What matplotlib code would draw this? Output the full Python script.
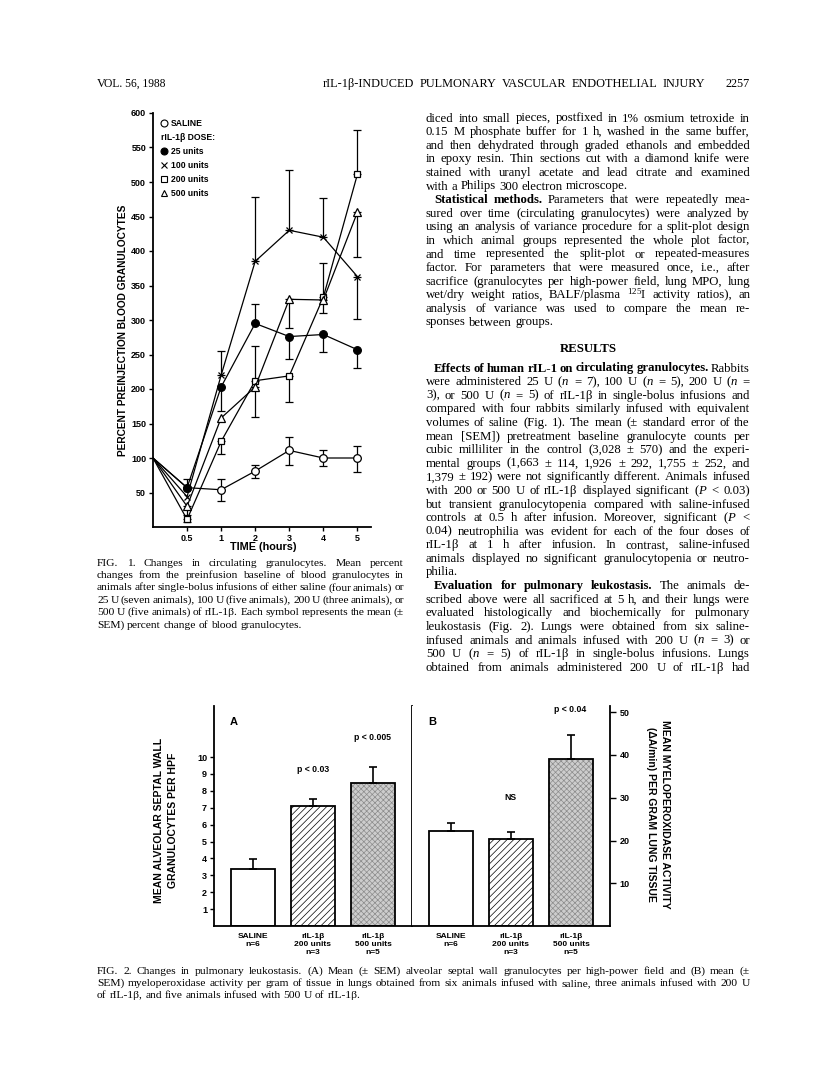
import matplotlib
matplotlib.use('Agg')
import matplotlib.pyplot as plt
import numpy as np

plt.rcParams['mathtext.fontset'] = 'custom'
plt.rcParams['mathtext.rm'] = 'Liberation Serif'
plt.rcParams['mathtext.it'] = 'Liberation Serif:italic'
plt.rcParams['mathtext.bf'] = 'Liberation Serif:bold'
plt.rcParams['hatch.linewidth'] = 0.5

SANS = 'Liberation Sans'
SERIF = 'Liberation Serif'

# ---------------- data: Fig. 1 ----------------
time_labels = ['0.5', '1', '2', '3', '4', '5']   # baseline (time 0) precedes these
saline = [100, 57, 54, 81, 111, 100, 100]
saline_up = [0, 0, 15, 9, 19, 11, 18]
saline_dn = [0, 0, 16, 10, 21, 12, 20]
u25 = [100, 57, 203, 295, 276, 279, 257]
u25_up = [0, 13, 0, 28, 0, 0, 0]
u25_dn = [0, 0, 35, 0, 33, 26, 27]
u100 = [100, 44, 220, 385, 430, 420, 363]
u100_up = [0, 0, 35, 93, 87, 57, 0]
u100_dn = [0, 0, 0, 0, 0, 0, 61]
u200 = [100, 11, 124, 212, 219, 333, 511]
u200_up = [0, 0, 0, 50, 0, 50, 64]
u200_dn = [0, 4, 18, 0, 38, 0, 0]
u500 = [100, 30, 158, 203, 330, 329, 456]
u500_up = [0, 0, 0, 0, 0, 0, 0]
u500_dn = [0, 12, 0, 44, 42, 19, 64]
legend_labels = ['SALINE', 'rIL-1\u03b2 DOSE:', '25 units', '100 units', '200 units', '500 units']

# ---------------- data: Fig. 2 ----------------
groups = ['SALINE\nn=6', 'rIL-1\u03b2\n200 units\nn=3', 'rIL-1\u03b2\n500 units\nn=5']
septal = [3.4, 7.1, 8.45]
septal_err = [0.57, 0.44, 0.98]
mpo = [22.3, 20.4, 39.1]
mpo_err = [1.9, 1.7, 5.6]
pvals_A = ['p < 0.03', 'p < 0.005']
pvals_B = ['NS', 'p < 0.04']

W, H, DPI = 816, 1077, 100
fig = plt.figure(figsize=(W / DPI, H / DPI), dpi=DPI)
fig.patch.set_facecolor('white')
renderer = fig.canvas.get_renderer()


def fx(x):
    return x / W


def fy(y):
    return 1 - y / H


def axrect(l, t, r, b):
    return [fx(l), fy(b), (r - l) / W, (b - t) / H]


# ================= Fig. 1 =================
ax1 = fig.add_axes(axrect(153, 113, 371, 527))
x = np.arange(len(time_labels) + 1)
series = [
    (saline, saline_up, saline_dn, dict(marker='o', mfc='white', ms=5.5)),
    (u25, u25_up, u25_dn, dict(marker='o', mfc='black', ms=5.5)),
    (u100, u100_up, u100_dn, dict(marker='x', ms=4.5)),
    (u200, u200_up, u200_dn, dict(marker='s', mfc='white', ms=5)),
    (u500, u500_up, u500_dn, dict(marker='^', mfc='white', ms=5.5)),
]
for vals, up, dn, st in series:
    v = np.array(vals, float)
    up = np.array(up, float)
    dn = np.array(dn, float)
    ax1.plot(x, v, color='black', lw=0.9, mec='black', mew=0.9,
             markevery=list(range(1, len(x))), zorder=3, **st)
    m = up > 0
    if m.any():
        ax1.errorbar(x[m], v[m], yerr=[np.zeros(m.sum()), up[m]], fmt='none',
                     ecolor='black', elinewidth=0.9, capsize=3, capthick=0.9, zorder=2)
    m = dn > 0
    if m.any():
        ax1.errorbar(x[m], v[m], yerr=[dn[m], np.zeros(m.sum())], fmt='none',
                     ecolor='black', elinewidth=0.9, capsize=3, capthick=0.9, zorder=2)

ax1.set_xlim(0, 6.4)
ax1.set_ylim(0, 600)
for s in ['top', 'right']:
    ax1.spines[s].set_visible(False)
for s in ['left', 'bottom']:
    ax1.spines[s].set_linewidth(1.3)
ax1.set_xticks(x[1:])
ax1.set_xticklabels(time_labels)
ax1.set_yticks(np.arange(50, 601, 50))
ax1.tick_params(length=3, width=1, direction='out', pad=2)
for lab in ax1.get_xticklabels() + ax1.get_yticklabels():
    lab.set_fontfamily(SANS)
    lab.set_fontweight('bold')
    lab.set_fontsize(6.5)
fig.text(fx(123), fy(330), 'PERCENT PREINJECTION BLOOD GRANULOCYTES', rotation=90,
         ha='center', va='center', family=SANS, weight='bold', size=7.3)
fig.text(fx(263), fy(547), 'TIME (hours)', ha='center', va='center',
         family=SANS, weight='bold', size=7.8)

leg_styles = [dict(marker='o', mfc='white', ms=5), None, dict(marker='o', mfc='black', ms=5),
              dict(marker='x', ms=4), dict(marker='s', mfc='white', ms=4.5),
              dict(marker='^', mfc='white', ms=5)]
leg_y = [123, 137, 151, 165, 179, 193]
for lab, st, yy in zip(legend_labels, leg_styles, leg_y):
    if st is None:
        fig.text(fx(161), fy(yy), lab, ha='left', va='center', family=SANS, weight='bold', size=6.2)
    else:
        ax1.plot([fx(164)], [fy(yy)], transform=fig.transFigure, clip_on=False,
                 color='black', mec='black', mew=0.8, ls='none', **st)
        fig.text(fx(171), fy(yy), lab, ha='left', va='center', family=SANS, weight='bold', size=6.2)

# ================= Fig. 2 =================
TOP2, BOT2 = 706, 926
axA = fig.add_axes(axrect(214, TOP2, 412, BOT2))
axB = fig.add_axes(axrect(412, TOP2, 610, BOT2))
xb = np.arange(len(groups))
fills = ['white', 'white', '#cdcdcd']
hatches = [None, '/////', 'xxxxxx']
hcols = ['black', 'black', '#8c8c8c']


def bars(ax, vals, errs):
    for i in range(len(vals)):
        ax.bar(xb[i], vals[i], width=0.72, color=fills[i], edgecolor=hcols[i],
               hatch=hatches[i], lw=0, zorder=1)
    ax.bar(xb, vals, width=0.72, fill=False, edgecolor='black', lw=1.3, zorder=2)
    ax.errorbar(xb, vals, yerr=[np.zeros(len(vals)), errs], fmt='none', ecolor='black',
                elinewidth=1.2, capsize=3, capthick=1.2, zorder=3)
    ax.set_xlim(-0.65, 2.65)
    ax.set_xticks(xb)
    ax.set_xticklabels(groups, family=SANS, weight='bold', size=6, linespacing=1.2)
    ax.tick_params(axis='x', length=0, pad=5)


bars(axA, septal, septal_err)
bars(axB, mpo, mpo_err)

axA.set_ylim(0, (BOT2 - TOP2) / 16.89)
axA.set_yticks(np.arange(1, 11))
axA.spines['top'].set_visible(False)
for s in ['left', 'bottom', 'right']:
    axA.spines[s].set_linewidth(1.3)
axA.tick_params(axis='y', length=3, width=1, direction='out', pad=2, labelsize=6.5)
for lab in axA.get_yticklabels():
    lab.set_fontfamily(SANS)
    lab.set_fontweight('bold')

axB.set_ylim(0, (BOT2 - TOP2) / 4.275)
axB.set_yticks(np.arange(10, 51, 10))
axB.yaxis.tick_right()
for s in ['top', 'left']:
    axB.spines[s].set_visible(False)
for s in ['right', 'bottom']:
    axB.spines[s].set_linewidth(1.3)
axB.tick_params(axis='y', length=4, width=1, direction='out', pad=3, labelsize=6.5)
for lab in axB.get_yticklabels():
    lab.set_fontfamily(SANS)
    lab.set_fontweight('bold')

fig.text(fx(234), fy(722), 'A', ha='center', va='center', family=SANS, weight='bold', size=8)
fig.text(fx(432), fy(722), 'B', ha='center', va='center', family=SANS, weight='bold', size=8)
fig.text(fx(313), fy(770), pvals_A[0], ha='center', va='center', family=SANS, weight='bold', size=6.2)
fig.text(fx(373), fy(738), pvals_A[1], ha='center', va='center', family=SANS, weight='bold', size=6.2)
fig.text(fx(510), fy(798), pvals_B[0], ha='center', va='center', family=SANS, weight='bold', size=6.2)
fig.text(fx(570), fy(709), pvals_B[1], ha='center', va='center', family=SANS, weight='bold', size=6.2)
fig.text(fx(166), fy(820), 'MEAN ALVEOLAR SEPTAL WALL\nGRANULOCYTES PER HPF', rotation=90,
         ha='center', va='center', family=SANS, weight='bold', size=7.5, linespacing=1.45)
fig.text(fx(658), fy(814), 'MEAN MYELOPEROXIDASE ACTIVITY\n(\u0394A/min) PER GRAM LUNG TISSUE', rotation=270,
         ha='center', va='center', family=SANS, weight='bold', size=7.5, linespacing=1.45)

# ================= text =================


def tw(s, **kw):
    t = fig.text(0, 0, s, **kw)
    w = t.get_window_extent(renderer).width
    t.remove()
    return w


def parse(line):
    just, ind = True, False
    if line.startswith('>'):
        ind = True
        line = line[1:]
    if line.endswith('~'):
        just = False
        line = line[:-1]
    items = []
    for t in line.split(' '):
        bold = t.startswith('*')
        items.append((t[1:] if bold else t, bold))
    return items, just, ind


def kw_for(bold, size):
    kw = dict(family=SERIF, size=size)
    if bold:
        kw['weight'] = 'bold'
    return kw


def fit_size(lines, x0, x1, maxsize, indent=8, minsp_frac=0.6):
    # largest size such that every justified line keeps a minimum word spacing
    ref = 10.0
    sp = tw('a a', family=SERIF, size=ref) - tw('aa', family=SERIF, size=ref)
    best = maxsize
    for line in lines:
        items, just, ind = parse(line)
        if not just or len(items) < 2:
            continue
        nat = sum(tw(t, **kw_for(b, ref)) for t, b in items) + (len(items) - 1) * sp * minsp_frac
        avail = x1 - x0 - (indent if ind else 0)
        best = min(best, ref * avail / nat)
    return best


def draw_lines(lines, x0, x1, y_first, dy, size, indent=8):
    sp = tw('a a', family=SERIF, size=size) - tw('aa', family=SERIF, size=size)
    for i, line in enumerate(lines):
        items, just, ind = parse(line)
        ws = [tw(t, **kw_for(b, size)) for t, b in items]
        xs = x0 + (indent if ind else 0)
        avail = x1 - xs
        if just and len(items) > 1:
            gap = (avail - sum(ws)) / (len(items) - 1)
        else:
            gap = sp
        y = y_first + i * dy
        xx = xs
        for (t, b), w in zip(items, ws):
            fig.text(fx(xx), fy(y), t, va='baseline', ha='left', **kw_for(b, size))
            xx += w + gap


N = r'$\mathit{n}$'
P = r'$\mathit{P}$'

# running header
fig.text(fx(97), fy(87), 'V', family=SERIF, size=8.8, va='baseline')
fig.text(fx(104), fy(87), 'OL. 56, 1988', family=SERIF, size=8.3, va='baseline')
draw_lines(['rIL-1\u03b2-INDUCED PULMONARY VASCULAR ENDOTHELIAL INJURY'], 323, 705, 87, 0, 8.8)
fig.text(fx(750), fy(87), '2257', family=SERIF, size=8.8, va='baseline', ha='right')

col1 = [
    'diced into small pieces, postfixed in 1% osmium tetroxide in',
    '0.15 M phosphate buffer for 1 h, washed in the same buffer,',
    'and then dehydrated through graded ethanols and embedded',
    'in epoxy resin. Thin sections cut with a diamond knife were',
    'stained with uranyl acetate and lead citrate and examined',
    'with a Philips 300 electron microscope.~',
    '>*Statistical *methods. Parameters that were repeatedly mea-',
    'sured over time (circulating granulocytes) were analyzed by',
    'using an analysis of variance procedure for a split-plot design',
    'in which animal groups represented the whole plot factor,',
    'and time represented the split-plot or repeated-measures',
    'factor. For parameters that were measured once, i.e., after',
    'sacrifice (granulocytes per high-power field, lung MPO, lung',
    'wet/dry weight ratios, BALF/plasma $^{125}$I activity ratios), an',
    'analysis of variance was used to compare the mean re-',
    'sponses between groups.~',
]
col2 = [
    '>*Effects *of *human *rIL-1 *on *circulating *granulocytes. Rabbits',
    'were administered 25 U (' + N + ' = 7), 100 U (' + N + ' = 5), 200 U (' + N + ' =',
    '3), or 500 U (' + N + ' = 5) of rIL-1\u03b2 in single-bolus infusions and',
    'compared with four rabbits similarly infused with equivalent',
    'volumes of saline (Fig. 1). The mean (\u00b1 standard error of the',
    'mean [SEM]) pretreatment baseline granulocyte counts per',
    'cubic milliliter in the control (3,028 \u00b1 570) and the experi-',
    'mental groups (1,663 \u00b1 114, 1,926 \u00b1 292, 1,755 \u00b1 252, and',
    '1,379 \u00b1 192) were not significantly different. Animals infused',
    'with 200 or 500 U of rIL-1\u03b2 displayed significant (' + P + ' < 0.03)',
    'but transient granulocytopenia compared with saline-infused',
    'controls at 0.5 h after infusion. Moreover, significant (' + P + ' <',
    '0.04) neutrophilia was evident for each of the four doses of',
    'rIL-1\u03b2 at 1 h after infusion. In contrast, saline-infused',
    'animals displayed no significant granulocytopenia or neutro-',
    'philia.~',
    '>*Evaluation *for *pulmonary *leukostasis. The animals de-',
    'scribed above were all sacrificed at 5 h, and their lungs were',
    'evaluated histologically and biochemically for pulmonary',
    'leukostasis (Fig. 2). Lungs were obtained from six saline-',
    'infused animals and animals infused with 200 U (' + N + ' = 3) or',
    '500 U (' + N + ' = 5) of rIL-1\u03b2 in single-bolus infusions. Lungs',
    'obtained from animals administered 200 U of rIL-1\u03b2 had',
]
body_size = min(fit_size(col1, 426, 750, 9.6), fit_size(col2, 426, 750, 9.6))
draw_lines(col1, 426, 750, 121.5, 13.6, body_size)
fig.text(fx(588), fy(352), 'RESULTS', family=SERIF, weight='bold', size=body_size, ha='center', va='baseline')
draw_lines(col2, 426, 750, 371.5, 13.6, body_size)

cap1 = [
    'FIG. 1. Changes in circulating granulocytes. Mean percent',
    'changes from the preinfusion baseline of blood granulocytes in',
    'animals after single-bolus infusions of either saline (four animals) or',
    '25 U (seven animals), 100 U (five animals), 200 U (three animals), or',
    '500 U (five animals) of rIL-1\u03b2. Each symbol represents the mean (\u00b1',
    'SEM) percent change of blood granulocytes.~',
]
cap2 = [
    'FIG. 2. Changes in pulmonary leukostasis. (A) Mean (\u00b1 SEM) alveolar septal wall granulocytes per high-power field and (B) mean (\u00b1',
    'SEM) myeloperoxidase activity per gram of tissue in lungs obtained from six animals infused with saline, three animals infused with 200 U',
    'of rIL-1\u03b2, and five animals infused with 500 U of rIL-1\u03b2.~',
]
cap_size = min(fit_size(cap1, 97, 404, 8.8), fit_size(cap2, 97, 750, 8.8))
draw_lines(cap1, 97, 404, 565.5, 12.4, cap_size)
draw_lines(cap2, 97, 750, 973.5, 12.5, cap_size)

fig.savefig('out.png', dpi=DPI, facecolor='white')
